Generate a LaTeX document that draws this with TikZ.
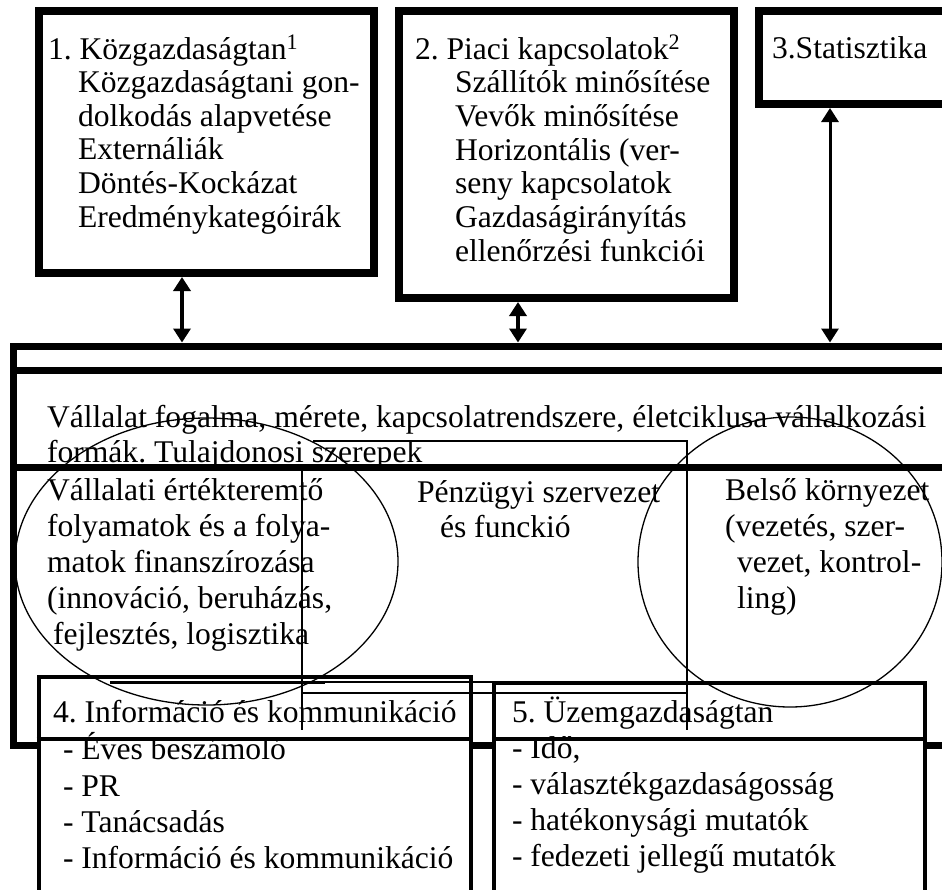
\documentclass[tikz,border=0pt]{standalone}
\usepackage{fontspec}
\setmainfont{Liberation Serif}
\usepackage{tikz}
\usetikzlibrary{arrows.meta,positioning}
\tikzset{
  ar/.style={{Triangle[length=14pt,width=17pt]}-{Triangle[length=14pt,width=17pt]},line width=3.5pt},
  box/.style={draw,line width=8pt,rectangle,inner sep=0pt},
  subbox/.style={draw,line width=4pt,fill=white,rectangle,inner sep=0pt},
  txt/.style={anchor=base west,inner sep=0pt,outer sep=0pt},
  rule/.style={line width=7pt},
  hair/.style={line width=1.2pt}
}
% text block with its own line spacing
\newcommand{\blk}[2]{\fontsize{31.6}{#1}\selectfont\frenchspacing\begin{tabular}[t]{@{}l@{}}#2\end{tabular}}

\begin{document}
\begin{tikzpicture}[x=1pt,y=-1pt]
\useasboundingbox (0,0) rectangle (942,889);
\clip (0,0) rectangle (942,889);
% the firm frame
\node[draw,rule,rectangle,inner sep=0pt,minimum width=951.5pt,minimum height=399pt] (firm) at (489.25,545.5) {};
% the three outer subjects
\node[box,minimum width=335pt,minimum height=262pt] (b1) at (206.5,142) {};
\node[box,minimum width=335pt,minimum height=287pt] (b2) at (566.5,154.5) {};
\node[box,minimum width=202pt,minimum height=93pt] (b3) at (860,57.5) {};
\coordinate (ax1) at (182,0);
\coordinate (ax2) at (518,0);
\coordinate (ax3) at (830,0);
\draw[ar] (b1.south -| ax1) -- (firm.north -| ax1);
\draw[ar] (b2.south -| ax2) -- (firm.north -| ax2);
\draw[ar,line width=3pt] (b3.south -| ax3) -- (firm.north -| ax3);
% the two lower subjects
\node[subbox,minimum width=432pt,minimum height=243pt] (b4) at (254.5,798.5) {};
\node[subbox,minimum width=431pt,minimum height=237pt] (b5) at (709.5,801.5) {};

\node[txt] (t1) at (48,59) {\blk{33.6}{1. Közgazdaságtan\textsuperscript{1}\\
  \hspace*{30pt}Közgazdaságtani gon-\\
  \hspace*{30pt}dolkodás alapvetése\\
  \hspace*{30pt}Externáliák\\
  \hspace*{30pt}Döntés-Kockázat\\
  \hspace*{30pt}Eredménykategóirák}};
\node[txt] (t2) at (415,59) {\blk{33.7}{2. Piaci kapcsolatok\textsuperscript{2}\\
  \hspace*{40pt}Szállítók minősítése\\
  \hspace*{40pt}Vevők minősítése\\
  \hspace*{40pt}Horizontális (ver-\\
  \hspace*{40pt}seny kapcsolatok\\
  \hspace*{40pt}Gazdaságirányítás\\
  \hspace*{40pt}ellenőrzési funkciói}};
\node[txt] (t3) at (772,58) {\blk{35}{3.Statisztika}};
\node[txt] (tfirm) at (47,427) {\blk{35}{Vállalat fogalma, mérete, kapcsolatrendszere, életciklusa vállalkozási\\
  formák. Tulajdonosi szerepek}};
\node[txt] (tval) at (47,500) {\blk{36}{Vállalati értékteremtő\\
  folyamatok és a folya-\\
  matok finanszírozása\\
  (innováció, beruházás,\\
  \hspace*{6pt}fejlesztés, logisztika}};
\node[txt] (tpenz) at (417,502) {\blk{35}{Pénzügyi szervezet\\
  \hspace*{23pt}és funckió}};
\node[txt] (tbelso) at (725,500) {\blk{36}{Belső környezet\\
  (vezetés, szer-\\
  \hspace*{12pt}vezet, kontrol-\\
  \hspace*{12pt}ling)}};
\node[txt] (t4) at (53,722) {\blk{36.2}{4. Információ és kommunikáció\\
  \hspace*{10pt}- Éves beszámoló\\
  \hspace*{10pt}- PR\\
  \hspace*{10pt}- Tanácsadás\\
  \hspace*{10pt}- Információ és kommunikáció}};
\node[txt] (t5) at (512,722) {\blk{36.2}{5. Üzemgazdaságtan\\
  - Idő,\\
  - választékgazdaságosság\\
  - hatékonysági mutatók\\
  - fedezeti jellegű mutatók}};

% inner rules of the frame and the header rules
\draw[rule] (firm.west |- 0,370) -- (firm.east |- 0,370);
\draw[rule] (firm.west |- 0,467) -- (firm.east |- 0,467);
\draw[line width=4pt] (b4.west |- 0,739) -- (b4.east |- 0,739);
\draw[line width=4pt] (b5.west |- 0,739) -- (b5.east |- 0,739);

% the two ellipses and the loose lines
\draw[line width=1.3pt] (206.5,561.5) ellipse [x radius=191.5, y radius=143.5];
\draw[line width=1.3pt] (790,562) ellipse [x radius=152, y radius=145];
\draw[hair] (313,441) -- (687,441) -- (687,730);
\draw[hair] (302,467) -- (302,730);
\draw[hair] (302,693) -- (687,693);
\draw[hair] (110,682) -- (494,682);
\draw[line width=3pt] (110,682) -- (325,682);
\end{tikzpicture}
\end{document}
